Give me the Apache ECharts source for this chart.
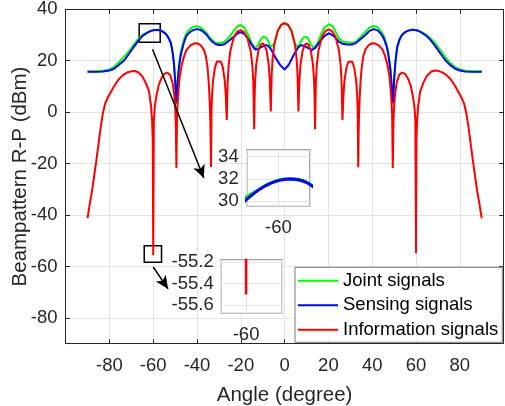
<!DOCTYPE html>
<html>
<head>
<meta charset="utf-8">
<script src="https://cdn.jsdelivr.net/npm/echarts@6/dist/echarts.min.js"></script>
<style>
html,body{margin:0;padding:0;background:#fff;}
#chart{width:505px;height:406px;}
</style>
</head>
<body>
<div id="chart"></div>
<script>
// ---- data ----
const seriesNames = ['Joint signals', 'Sensing signals', 'Information signals'];
const xTickValues = [-80, -60, -40, -20, 0, 20, 40, 60, 80];
const yTickValues = [-80, -60, -40, -20, 0, 20, 40];

const jointAngles = [-90,-86,-83,-80,-77.9,-75.5,-73.3,-71,-69,-67,-66,-65,-64.5,-64,-63.5,-63,-62.5,-62,-61.5,-61,-60.5,-60,-59.5,-59,-58.5,-58,-57.5,-57,-56.5,-56,-55.5,-55,-54,-53,-52,-51.5,-51,-50.5,-50,-49.7,-49.4,-49.1,-48.8,-48.3,-47.4,-46,-45,-44,-42.8,-41.5,-40,-38.5,-37,-35.5,-34.5,-33,-31.4,-30,-29,-28,-26.9,-25,-23.1,-21.5,-20.1,-18.5,-16.3,-15,-13.5,-12,-10.8,-9.6,-8.5,-7.5,-6.8,-6.3,-5.5,-4.73,-3.15,-1.58,0,1.58,3.15,4.73,5.5,6.3,6.8,7.5,8.5,9.6,10.8,12,13.4,15,16.3,18.3,20.2,21.8,23,24.8,26.5,28.6,30.5,32.4,34.5,36.9,38.8,40.7,42.5,44,45.3,46.5,47.3,48.3,48.8,49.1,49.4,49.7,50,50.6,51.4,52.5,53.6,55,56.5,58.5,60.5,62,64.3,66.5,68.8,71,73.4,75.5,77.9,80,82.5,86,90];
const jointValues = [15.8,15.8,16.0,16.6,17.6,19.6,21.5,23.8,26.1,28.3,29.2,29.85,30.15,30.42,30.63,30.82,31.05,31.28,31.48,31.65,31.79,31.9,31.98,32.03,32.05,32.03,31.98,31.89,31.75,31.55,31.3,31.0,30.25,28.95,27.05,25.05,22.55,18.55,12.55,7.55,3.5,7.8,12.5,17.8,23.5,28.2,30.3,31.6,32.6,33.2,33.4,33.0,32.0,30.6,29.4,28.0,26.9,26.8,27.0,27.2,27.7,29.5,31.8,33.4,33.9,33.0,29.5,26.8,24.8,26.3,28.5,29.4,29.0,27.6,26.2,25.3,25.6,26.6,31.7,34.0,34.7,34.0,31.7,26.6,25.6,25.3,26.2,27.6,29.0,29.4,28.5,26.3,24.9,26.8,29.6,33.0,34.2,33.5,31.8,28.7,27.5,27.2,27.0,27.3,29.0,31.3,32.9,33.5,33.0,31.5,29.6,26.6,23.6,17.3,11.5,7.3,3.5,7.6,12.6,19.6,25.3,28.4,30.05,31.15,31.75,32.15,31.85,31.3,30.3,28.9,26.8,24.2,21.4,19.3,17.5,16.7,16.0,15.8,15.8];

const sensingAngles = [-90,-86,-83,-80,-77.9,-75.5,-73.3,-71,-69,-67,-66,-65,-64.5,-64,-63.5,-63,-62.5,-62,-61.5,-61,-60.5,-60,-59.5,-59,-58.5,-58,-57.5,-57,-56.5,-56,-55.5,-55,-54,-53,-52,-51.5,-51,-50.5,-50,-49.7,-49.4,-49.1,-48.8,-48.3,-47.4,-46,-45,-44,-42.8,-41.5,-40,-38.5,-37,-35.5,-34.5,-33,-31.4,-30,-29,-28,-26.9,-25,-23.1,-21.5,-20.1,-18.5,-16.3,-15,-13.5,-12,-10.5,-8.5,-7.5,-6,-4,-2,0,2,4,5,6,7.3,8.5,9.6,11,12.6,14,16,18,20.2,22.5,24.8,26.5,28.6,30.5,32.4,34.5,36.9,38.8,40.7,42.5,44,45.3,46.5,47.3,48.3,48.8,49.1,49.4,49.7,50,50.6,51.4,52.5,53.6,55,56.5,58.5,60.5,62,64.3,66.5,68.8,71,73.4,75.5,77.9,80,82.5,86,90];
const sensingValues = [15.7,15.7,15.8,16.2,16.9,18.5,20.1,22.8,25.2,27.5,28.6,29.5,29.85,30.17,30.47,30.75,31.0,31.23,31.43,31.6,31.74,31.85,31.93,31.98,32.0,31.98,31.93,31.84,31.7,31.5,31.25,30.95,30.2,28.9,27.0,25.0,22.5,18.5,12.5,7.5,3.5,7.5,12,17,22.3,27,29.4,30.5,31.4,32.0,32.3,32.0,31.2,30.0,28.8,27.4,26.4,26.1,26.1,26.3,26.8,28.1,29.4,30.6,31.1,30.5,28.1,26.2,24.4,24.6,25.4,26.1,25.8,24.2,21.0,18.3,16.6,18.6,22.0,23.5,25.0,26.0,25.9,25.5,24.8,24.2,25.0,27.3,29.5,30.7,29.6,27.4,26.6,26.3,26.3,26.8,28.3,30.0,31.6,32.3,31.8,30.5,28.7,25.8,22.8,16.5,11,7,3.5,7.5,12.5,19.5,25.2,28.3,30.0,31.1,31.7,32.1,31.8,31.2,30.0,28.2,25.7,23.0,20.2,18.4,16.9,16.2,15.8,15.7,15.7];

const infoAngles = [-90,-89.5,-89,-88,-87,-86,-85,-84,-83,-82,-81,-80,-78,-76,-74,-72,-70,-68.5,-67,-65,-63.5,-62.5,-61.9,-61.5,-61,-60.5,-60.2,-60,-59.7,-59.3,-58.5,-57.5,-56.2,-55,-53.6,-52.3,-51.2,-50.5,-50,-49.7,-49.4,-49.1,-48.8,-48.4,-47.9,-47,-45.8,-44.8,-43,-41.5,-40,-38.5,-37,-36,-35.2,-34.6,-34.2,-33.9,-33.6,-33.38,-33.15,-32.7,-31.8,-30.9,-30,-29.1,-28.2,-27.3,-26.85,-26.6,-26.4,-26.0,-25.6,-24.84,-23.3,-21.7,-20.15,-18.6,-17.0,-15.46,-14.68,-14.29,-13.9,-13.66,-13.43,-12.95,-12.0,-11.05,-10.1,-9.15,-8.2,-7.25,-6.78,-6.54,-6.3,-5.91,-5.51,-4.73,-3.15,-1.58,0,1.58,3.15,4.73,5.51,5.91,6.3,6.54,6.78,7.25,8.2,9.15,10.1,11.05,12.0,12.95,13.43,13.66,13.9,14.29,14.68,15.46,17.0,18.6,20.15,21.7,23.3,24.84,25.6,26.0,26.4,26.6,26.85,27.3,28.2,29.1,30.0,30.9,31.8,32.7,33.15,33.38,33.6,33.9,34.2,34.6,35.2,36,37,38.5,40,41.5,43,44.8,45.8,47,47.9,48.4,48.8,49.1,49.4,49.7,50,50.5,51.2,52.3,53.6,55,56.2,57.5,58.5,59.3,59.7,60,60.2,60.5,61,61.5,61.9,62.5,63.5,65,67,68.5,70,72,74,76,78,80,81,82,83,84,85,86,87,88,89,89.5,90];
const infoValues = [-41.2,-38.5,-35.8,-31,-25,-19,-12.5,-6,-0.5,3.2,5.2,6.9,9.9,12.5,14.3,15.4,15.9,16.0,15.6,14.0,11.5,9.5,8,5.5,2.5,-3.5,-11,-55.5,-3,2,6.5,10.5,13.3,14.9,15.4,14.5,11.5,7.5,2.5,-4,-21.7,-1,4,9,13.8,18.2,22,24.2,26,26.7,26.8,26.2,24.5,22,17.5,11,4,-4,-21.3,0.4,6.4,12.1,17.4,19.7,20.4,19.7,17.4,12.1,6.4,0.4,-3.0,11.9,17.7,23.6,28.9,31.2,31.9,31.2,28.9,23.6,17.7,11.9,-6.6,6.6,12.6,18.5,23.8,26.1,26.8,26.1,23.8,18.5,12.6,6.6,0.3,14.4,20.4,26.3,31.6,33.9,34.6,33.9,31.6,26.3,20.4,14.4,0.3,6.6,12.6,18.5,23.8,26.1,26.8,26.1,23.8,18.5,12.6,6.6,-6.6,12.2,18.0,23.9,29.2,31.5,32.2,31.5,29.2,23.9,18.0,12.2,-3.0,0.3,6.3,12.0,17.3,19.6,20.3,19.6,17.3,12.0,6.3,0.3,-21.4,-4,4,11,17.5,22,24.5,26.2,26.8,26.7,26,24.2,22,18.2,13.8,9,4,-1,-21.7,-4,2.5,7.5,11.5,14.5,15.4,14.9,13.3,10.5,6.5,2,-3,-54.8,-11,-3.5,2.5,5.5,8,9.5,11.7,14.2,15.8,16.2,16.1,15.5,14.4,12.6,10.0,6.9,5.2,3.2,-0.5,-6,-12.5,-19,-25,-31,-35.8,-38.5,-41.2];

// inset tick labels
const inset1YTicks = [30, 32, 34];
const inset2YTicks = [-55.2, -55.4, -55.6];
const insetXTick = -60;

// ---- build ----
const FONT = 'Liberation Sans, Arial, sans-serif';
const TXT = '#262626';
const GRIDC = '#e3e3e3';
const COLORS = ['#00ff00', '#0000ff', '#ff0000'];
const zip = (a, b) => a.map((x, i) => [x, b[i]]);
const jointData = zip(jointAngles, jointValues);
const sensingData = zip(sensingAngles, sensingValues);
const infoData = zip(infoAngles, infoValues);
const inList = (list, v) => list.some(t => Math.abs(t - v) < 1e-6);

const chart = echarts.init(document.getElementById('chart'), null, {renderer: 'canvas'});

const tickStyle = {inside: true, length: 4.5, lineStyle: {color: TXT, width: 1}};
const lineAxis = {show: true, onZero: false, lineStyle: {color: TXT, width: 1}};
const noLine = {show: false, onZero: false};

function lineSeries(name, data, color, xi, yi, width, z) {
  return {
    type: 'line', name: name, data: data, xAxisIndex: xi, yAxisIndex: yi,
    symbol: 'none', showSymbol: false, smooth: false, clip: true,
    lineStyle: {color: color, width: width}, itemStyle: {color: color},
    animation: false, z: z, emphasis: {disabled: true}
  };
}

const mainRed = lineSeries(seriesNames[2], infoData, COLORS[2], 0, 0, 2, 3);
mainRed.markLine = {
  silent: true, animation: false, symbol: ['none', 'arrow'], symbolSize: [9, 13],
  lineStyle: {color: '#000', width: 1.5, type: 'solid'}, label: {show: false},
  emphasis: {disabled: true},
  data: [
    [{coord: [-60.3, 24.5]}, {coord: [-36.9, -25.6]}],
    [{coord: [-60.0, -60.2]}, {coord: [-53.2, -68.7]}]
  ]
};
mainRed.markArea = {
  silent: true, animation: false,
  itemStyle: {color: 'rgba(0,0,0,0)', borderColor: '#000', borderWidth: 1.5},
  label: {show: false}, emphasis: {disabled: true},
  data: [
    [{coord: [-66.4, 34.4]}, {coord: [-56.8, 27.2]}],
    [{coord: [-64.1, -51.9]}, {coord: [-56.2, -58.3]}]
  ]
};

const option = {
  backgroundColor: '#fff',
  animation: false,
  textStyle: {fontFamily: FONT},
  grid: [
    {left: 65.6, top: 9.3, width: 438, height: 334.4, containLabel: false, outerBoundsMode: 'none'},
    {left: 246.7, top: 150, width: 63.3, height: 55.7, show: true, backgroundColor: '#fff',
     borderColor: '#8a8a8a', borderWidth: 1.5, z: 5, containLabel: false, outerBoundsMode: 'none'},
    {left: 220.7, top: 260, width: 61.6, height: 52.7, show: true, backgroundColor: '#fff',
     borderColor: '#8a8a8a', borderWidth: 1.5, z: 5, containLabel: false, outerBoundsMode: 'none'}
  ],
  xAxis: [
    {type: 'value', gridIndex: 0, min: -100, max: 100, interval: 20, position: 'bottom',
     name: 'Angle (degree)', nameLocation: 'middle', nameGap: 41,
     nameTextStyle: {fontFamily: FONT, fontSize: 20.5, color: TXT},
     axisLine: lineAxis, axisTick: tickStyle,
     axisLabel: {fontFamily: FONT, fontSize: 18.5, color: TXT, margin: 13,
       formatter: v => inList(xTickValues, v) ? String(v) : ''},
     splitLine: {show: true, lineStyle: {color: GRIDC, width: 1}}},
    {type: 'value', gridIndex: 0, min: -100, max: 100, interval: 20, position: 'top',
     axisLine: lineAxis, axisTick: tickStyle, axisLabel: {show: false}, splitLine: {show: false}},
    {type: 'value', gridIndex: 1, min: -64, max: -56, interval: 4, z: 6,
     axisLine: noLine, axisTick: {show: false},
     axisLabel: {fontFamily: FONT, fontSize: 18.5, color: TXT, margin: 13,
       formatter: v => Math.abs(v - insetXTick) < 1e-6 ? String(v) : ''},
     splitLine: {show: true, lineStyle: {color: GRIDC, width: 1}}},
    {type: 'value', gridIndex: 2, min: -61.4, max: -58, splitNumber: 1, z: 6,
     axisLine: noLine, axisTick: {show: false},
     axisLabel: {fontFamily: FONT, fontSize: 18.5, color: TXT, margin: 13,
       formatter: v => Math.abs(v - insetXTick) < 1e-6 ? String(v) : ''},
     splitLine: {show: true, lineStyle: {color: GRIDC, width: 1}}}
  ],
  yAxis: [
    {type: 'value', gridIndex: 0, min: -90, max: 40, splitNumber: 6, position: 'left',
     name: 'Beampattern R-P (dBm)', nameLocation: 'middle', nameGap: 35, nameMoveOverlap: false,
     nameTextStyle: {fontFamily: FONT, fontSize: 20.5, color: TXT},
     axisLine: lineAxis, axisTick: tickStyle,
     axisLabel: {fontFamily: FONT, fontSize: 18.5, color: TXT, margin: 8,
       formatter: v => inList(yTickValues, v) ? String(v) : ''},
     splitLine: {show: true, lineStyle: {color: GRIDC, width: 1}}},
    {type: 'value', gridIndex: 0, min: -90, max: 40, splitNumber: 6, position: 'right',
     axisLine: lineAxis, axisTick: tickStyle, axisLabel: {show: false}, splitLine: {show: false}},
    {type: 'value', gridIndex: 1, min: 29.6, max: 34.6, splitNumber: 3, z: 6,
     axisLine: noLine, axisTick: {show: false},
     axisLabel: {fontFamily: FONT, fontSize: 18.5, color: TXT, margin: 8,
       formatter: v => inList(inset1YTicks, v) ? String(v) : ''},
     splitLine: {show: true, lineStyle: {color: GRIDC, width: 1}}},
    {type: 'value', gridIndex: 2, min: -55.67, max: -55.18, splitNumber: 2, z: 6,
     axisLine: noLine, axisTick: {show: false},
     axisLabel: {fontFamily: FONT, fontSize: 18.5, color: TXT, margin: 7,
       formatter: v => inList(inset2YTicks, v) ? v.toFixed(1) : ''},
     splitLine: {show: true, lineStyle: {color: GRIDC, width: 1}}}
  ],
  legend: {
    data: seriesNames, orient: 'vertical', left: 295, top: 267.3,
    padding: [4, 4, 3, 3], itemGap: 5.5, itemWidth: 40, itemHeight: 2, icon: 'rect',
    backgroundColor: '#fff', borderColor: '#7a7a7a', borderWidth: 1, borderRadius: 0,
    selectedMode: false, z: 8,
    textStyle: {fontFamily: FONT, fontSize: 18.5, color: '#000'}
  },
  series: [
    lineSeries(seriesNames[0], jointData, COLORS[0], 0, 0, 2, 2),
    lineSeries(seriesNames[1], sensingData, COLORS[1], 0, 0, 2, 2),
    mainRed,
    lineSeries('inset1-joint', jointData, COLORS[0], 2, 2, 3, 7),
    lineSeries('inset1-sensing', sensingData, COLORS[1], 2, 2, 3, 7),
    lineSeries('inset2-info', infoData, COLORS[2], 3, 3, 2.5, 7)
  ]
};
chart.setOption(option);
</script>
</body>
</html>
